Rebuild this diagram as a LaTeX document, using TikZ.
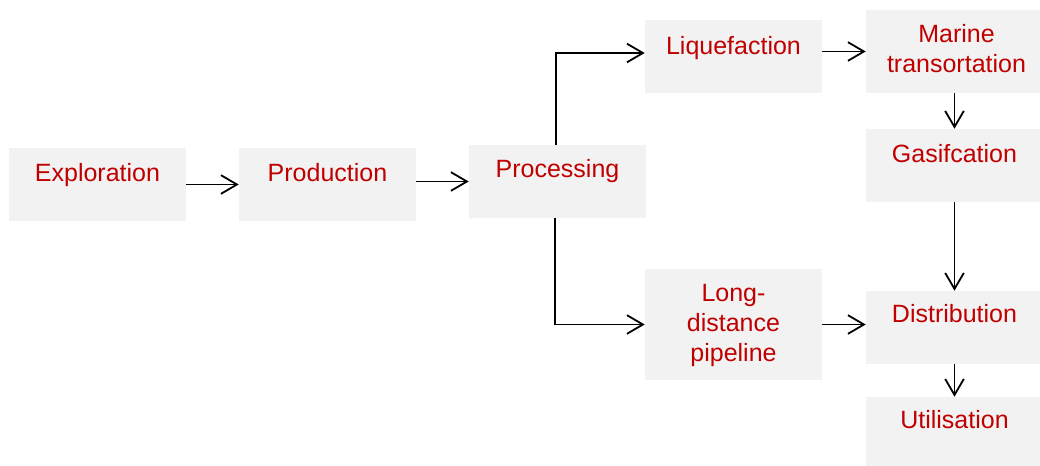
\documentclass[tikz,border=0pt]{standalone}
\usepackage{fontspec}
\setmainfont{Liberation Sans}
\usetikzlibrary{arrows.meta}
\definecolor{boxgray}{HTML}{F2F2F2}
\definecolor{stepred}{HTML}{C00000}
\begin{document}
\begin{tikzpicture}[x=0.75pt,y=-0.75pt,
  stagebox/.style={fill=boxgray, draw=none, inner sep=0pt,
    minimum width=132.75pt, minimum height=54.75pt},
  stagetext/.style={text=stepred, font=\fontsize{18.75}{22.5}\selectfont,
    align=center, anchor=base, inner sep=0pt},
  flow/.style={draw=black, line width=1.35pt,
    -{Straight Barb[length=12pt,width=14pt]}}]
\useasboundingbox (0,0) rectangle (1040,466);

% boxes of the chain
\node[stagebox] (expl)   at (97.5,184.5) {};
\node[stagebox] (prod)   at (327.5,184.5) {};
\node[stagebox] (proc)   at (557.5,181.5) {};
\node[stagebox] (liq)    at (733.5,57) {};
\node[stagebox, minimum height=62.25pt] (marine) at (954.5,51.5) {};
\node[stagebox] (gasif)  at (954.5,165.5) {};
\node[stagebox, minimum height=83.25pt] (long) at (733.5,324.5) {};
\node[stagebox] (dist)   at (954.5,327.5) {};
\node[stagebox] (util)   at (954.5,433.5) {};

% labels (multi-line labels sit on the baseline of their last line)
\node[stagetext] (explT)   at (97.5,182) {Exploration};
\node[stagetext] (prodT)   at (327.5,182) {Production};
\node[stagetext] (procT)   at (557.5,178) {Processing};
\node[stagetext] (liqT)    at (733.5,55) {Liquefaction};
\node[stagetext] (marineT) at (956.5,73) {Marine\\transortation};
\node[stagetext] (gasifT)  at (954.5,163) {Gasifcation};
\node[stagetext] (longT)   at (733.5,362) {Long-\\distance\\pipeline};
\node[stagetext] (distT)   at (954.5,323) {Distribution};
\node[stagetext] (utilT)   at (954.5,429) {Utilisation};

% connectors
\draw[flow] (expl.east) -- (prod.west);
\draw[flow] (prod.east |- proc.west) -- (proc.west);
\draw[flow] ([xshift=-1pt]proc.north) |- ([yshift=3pt]liq.west);
\draw[flow] (liq.east |- marine.west) -- (marine.west);
\draw[flow] (marine.south) -- (gasif.north);
\draw[flow] (gasif.south) -- (dist.north);
\draw[flow] ([xshift=-2pt]proc.south) |- (long.west);
\draw[flow] (long.east) -- (long.east -| dist.west);
\draw[flow] (dist.south) -- (util.north);
\end{tikzpicture}
\end{document}
